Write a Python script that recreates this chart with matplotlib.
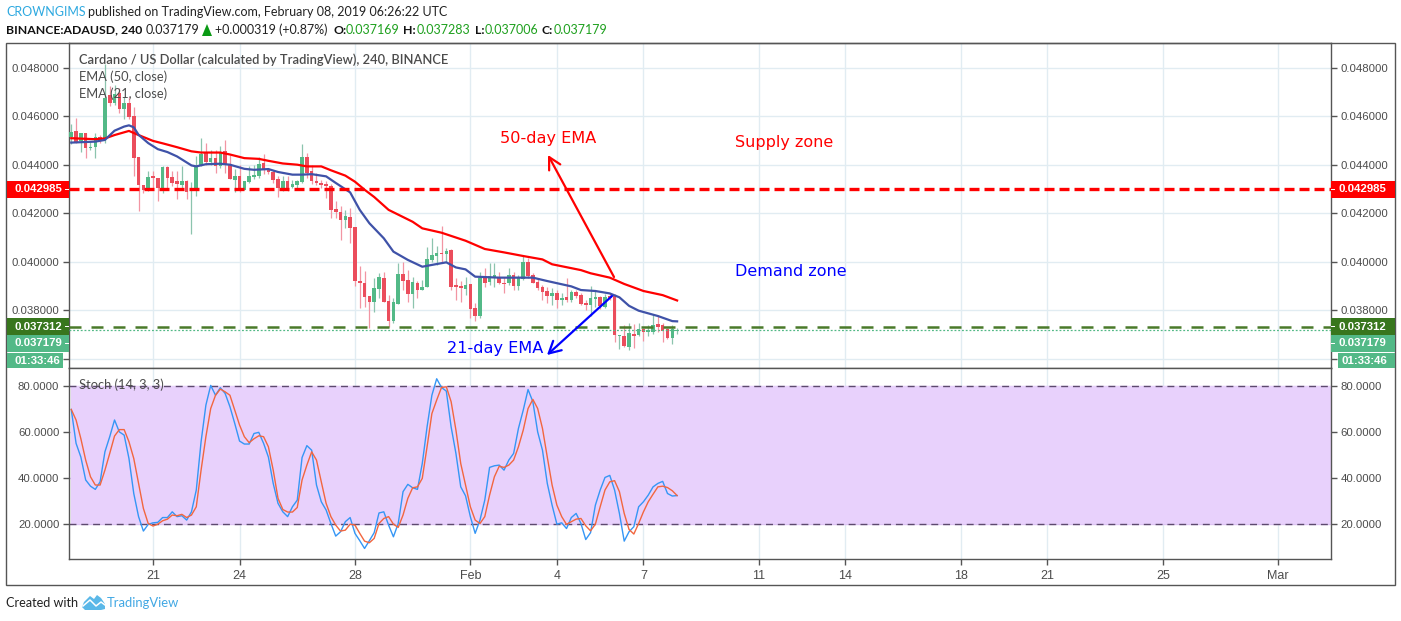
import numpy as np
import pandas as pd
import matplotlib
matplotlib.use('Agg')
import matplotlib.pyplot as plt
import matplotlib.dates as mdates
import matplotlib.ticker as mticker
from matplotlib.patches import Rectangle, Polygon
from matplotlib.lines import Line2D

W, H = 1401, 621

# ---------- data (prices in thousandths of a dollar) ----------
opens = [45.12,45.39,44.98,45.30,44.67,44.71,45.13,45.05,46.87,46.52,
 46.96,46.29,46.54,46.00,44.33,43.18,43.04,43.55,43.46,43.04,
 43.92,43.50,43.34,43.18,43.34,42.90,42.90,43.96,44.48,44.12,
 44.28,43.93,44.57,44.02,43.38,43.55,42.97,43.29,43.49,43.55,
 44.08,43.82,43.71,43.41,43.04,43.34,43.07,43.18,43.29,44.33,
 43.75,43.33,43.26,43.22,43.14,42.19,42.04,41.74,41.83,41.42,
 39.22,39.14,38.59,38.34,38.89,39.33,38.39,37.56,38.26,39.50,
 39.25,38.67,39.14,38.84,38.95,40.07,40.24,40.38,40.32,40.49,
 39.05,39.00,38.88,39.09,38.08,37.77,39.32,39.18,39.32,39.39,
 39.14,39.14,39.46,39.00,39.28,40.00,39.44,39.18,38.95,38.80,
 38.59,38.73,38.43,38.54,38.45,38.76,38.63,38.29,38.22,38.47,
 38.55,38.15,38.59,38.59,36.94,36.94,36.48,37.03,36.98,37.22,
 37.11,37.12,37.44,37.40,37.22,36.85,37.17]
highs = [45.68,45.91,45.32,45.30,44.95,45.30,45.23,48.16,47.23,47.28,
 47.14,46.80,46.80,46.39,44.33,43.18,43.72,43.72,43.46,43.96,
 43.96,43.72,43.72,43.93,43.38,43.27,44.34,45.09,44.89,44.61,
 44.61,44.75,45.02,44.41,43.82,44.00,43.34,43.93,44.00,44.31,
 44.43,43.86,43.79,43.55,43.52,43.55,43.38,43.38,44.84,44.48,
 44.00,43.66,43.38,43.31,43.22,42.52,42.29,42.15,42.20,41.45,
 39.83,39.64,38.59,39.32,39.53,39.60,38.63,38.50,39.96,40.00,
 39.66,39.39,39.22,39.25,40.63,40.97,40.65,41.48,40.56,40.52,
 39.32,39.22,39.39,39.09,38.29,39.60,39.73,39.94,39.94,39.60,
 39.39,39.73,39.60,39.46,40.28,40.14,39.53,39.32,39.05,38.95,
 38.91,38.84,38.70,39.35,38.84,38.84,38.70,38.45,39.00,38.84,
 38.59,38.67,38.70,38.67,37.00,37.40,37.47,37.44,37.47,37.26,
 37.40,37.85,37.81,37.47,37.26,37.40,37.28]
lows = [44.84,44.89,44.54,44.26,44.61,44.26,44.89,44.91,46.43,46.46,
 46.14,45.88,45.87,43.55,42.11,42.84,42.90,43.04,42.52,42.84,
 43.04,43.11,42.60,43.04,42.59,41.13,42.70,43.96,44.00,44.00,
 43.66,43.86,43.66,43.42,42.86,42.86,42.95,43.25,43.41,43.45,
 43.61,43.61,43.25,42.66,42.93,42.93,43.04,43.04,43.25,43.45,
 43.22,43.18,43.04,42.63,41.81,41.81,40.90,41.40,40.76,39.00,
 38.11,38.15,37.26,37.95,38.50,38.34,37.33,37.47,38.26,38.84,
 38.36,38.08,38.50,38.84,38.95,40.00,39.87,39.94,40.00,38.84,
 38.45,38.36,38.63,37.67,37.58,37.67,38.95,39.05,38.98,39.09,
 38.70,39.05,38.84,38.84,39.25,39.32,39.11,38.84,38.45,38.29,
 38.22,38.12,38.22,38.36,38.36,38.50,38.22,38.01,37.77,38.15,
 38.04,38.12,38.43,36.71,36.43,36.50,36.37,36.44,36.94,36.75,
 36.94,37.05,37.12,36.71,36.81,36.61,37.01]
closes = [45.34,44.95,45.30,44.67,44.73,45.13,45.02,46.73,46.55,46.89,
 46.29,46.54,45.96,44.26,43.15,42.97,43.50,43.44,43.04,43.92,
 43.46,43.25,43.20,43.34,42.89,42.97,43.96,44.45,44.12,44.28,
 43.93,44.54,43.97,43.42,43.55,42.97,43.34,43.55,43.59,44.04,
 43.82,43.71,43.38,43.04,43.34,42.93,43.22,43.34,44.33,43.66,
 43.31,43.25,43.18,43.11,42.15,42.04,41.74,41.87,41.41,39.22,
 39.14,38.56,38.34,38.92,39.37,38.34,37.56,38.33,39.50,39.22,
 38.67,39.18,38.84,38.95,40.10,40.28,40.38,40.32,40.45,38.98,
 38.95,38.91,39.05,38.04,37.77,39.35,39.14,39.42,39.44,39.14,
 39.09,39.46,39.00,39.32,40.00,39.42,39.14,38.92,38.77,38.59,
 38.70,38.43,38.50,38.45,38.76,38.59,38.26,38.22,38.51,38.55,
 38.18,38.56,38.51,36.98,37.00,36.53,37.07,36.94,37.22,37.11,
 37.19,37.40,37.30,37.16,36.85,37.22,37.18]

ema50_bars = [0,5,7,9,12,14,17,19,22,25,27,31,33,36,39,41,44,47,49,52,54,57,59,61,63,66,71,73,77,82,86,90,94,98,100,106,108,112,115,119,123,126]
ema50_vals = [45.09,45.05,45.08,45.22,45.39,45.22,44.98,44.88,44.72,44.55,44.50,44.50,44.42,44.27,44.24,44.16,44.05,44.00,43.93,43.93,43.77,43.55,43.30,42.97,42.67,42.14,41.65,41.38,41.20,40.87,40.53,40.39,40.24,40.10,39.90,39.66,39.53,39.35,39.09,38.80,38.63,38.41]
ema21_bars = [0,5,7,9,11,12,13,14,16,18,20,22,25,26,28,31,33,36,38,41,43,46,48,50,53,55,58,60,62,65,67,70,73,76,78,80,82,84,89,96,99,104,106,109,112,114,116,118,122,125,126]
ema21_vals = [44.91,44.95,45.02,45.40,45.57,45.62,45.54,45.23,44.89,44.64,44.52,44.34,43.97,43.93,44.02,44.04,44.00,43.83,43.79,43.82,43.70,43.59,43.59,43.61,43.52,43.25,42.86,42.14,41.59,40.97,40.42,40.08,39.80,39.91,39.98,39.77,39.69,39.39,39.35,39.35,39.21,38.99,38.84,38.80,38.70,38.54,38.19,37.99,37.77,37.56,37.55]

stoch_k = [69.8,55,49,39,36.3,34.9,38.2,51.3,57.9,65.2,60,58.6,48.4,33.1,23,16.7,19.6,20.3,20.5,22.6,
 22.6,25.1,23,23.4,21.5,25.1,34.6,55.7,71.7,80.3,76,79.3,76.8,71,63.7,56,54.7,54.7,59.3,59.8,
 55,49,37.5,28.8,25.1,23,27.3,30.2,48.8,54,52,36.8,29.5,25.9,20,14.5,16.4,20.8,22.6,15.7,
 12.5,9.1,12.5,16,24.6,25.1,19.3,14.2,20,33.9,37.1,35.6,34.9,46.2,62.2,76,83.2,79.4,77.8,62.2,
 50.6,36,32.1,23,15.7,21.5,30.2,44.5,45.2,45.5,43.3,47.7,50.6,61.5,69.5,78.5,73.2,60,52,37.5,
 28,19.7,20.3,17.8,22.6,24.4,20,13,16,28,34.6,40.1,41,34.6,24.4,12.3,16.4,18.6,27.3,29.5,
 32.4,36,37.5,38.4,33.1,32,32.2]
stoch_d = [69.8,65.2,57,47.7,40.4,36.8,36.8,43.3,50.6,58.2,61,61,55.7,48.4,37.5,26.6,20,18.9,19.7,21.2,
 21.9,23.7,23.4,24,22.6,23.7,27.3,43.3,57.9,70.2,76,78.7,77.5,76,69.5,63,57.9,55.3,57,58.3,
 57.9,53.5,43.3,31,26.1,25,25,27,39,45.5,51.3,47.7,38.2,28.8,23,19.3,16.7,17.1,19.7,19.3,
 15.7,12.3,11.6,13.5,20,22.2,23,19.7,18.3,23.7,31,35.6,36,39.7,53.5,68,73.9,79.4,79.7,73.2,
 60.8,46.2,36.8,27.3,21.5,20,23,32.4,40.4,45,44.5,45.5,47.7,53.5,60.8,70.2,74.2,70.2,61.5,49,
 36.8,28,23,19.6,20.8,21.9,22.2,19,16.8,19.7,27.3,34.6,38.2,38.7,33.9,24.4,17.4,15.4,20,25.1,
 29.5,32.8,36,36.3,35.7,34.3,32.2]

price_ticks = [0.036, 0.038, 0.040, 0.042, 0.044, 0.046, 0.048]
stoch_ticks = [20, 40, 60, 80]
date_ticks = ['2019-01-21','2019-01-24','2019-01-28','2019-02-01','2019-02-04','2019-02-07',
              '2019-02-11','2019-02-14','2019-02-18','2019-02-21','2019-02-25','2019-03-01']
date_labels = ['21','24','28','Feb','4','7','11','14','18','21','25','Mar']
supply_level = 0.042985
demand_level = 0.037312
last_price = 0.037179

# ---------- styling ----------
UP, DOWN = '#53b987', '#eb4d5c'
UP_W, DOWN_W = '#8cc4ae', '#f295a3'
GRID = '#e1ecf2'
FRAME = '#555555'
TXT = '#4c4c4c'
SANS = 'Liberation Sans'
LABEL = 'Lato'
PX_DAY = 28.85

fig = plt.figure(figsize=(W/100, H/100), dpi=100, facecolor='white')

def axes_px(x0, y0, x1, y1):
    return fig.add_axes([x0/W, 1-y1/H, (x1-x0)/W, (y1-y0)/H])

def xlim_dates():
    base = mdates.date2num(pd.Timestamp('2019-01-21'))
    return base + (69-153)/PX_DAY, base + (1331-153)/PX_DAY

ax = axes_px(69, 43, 1331, 368)
ax2 = axes_px(69, 368, 1331, 559)

times = pd.date_range('2019-01-18 04:00', periods=len(closes), freq='4h')
xs = mdates.date2num(times)
o, h, l, c = [np.array(a)/1000 for a in (opens, highs, lows, closes)]
up = c >= o
body_w = 3.6/PX_DAY

ax.vlines(xs[up], l[up], h[up], color=UP_W, lw=0.9, zorder=2)
ax.vlines(xs[~up], l[~up], h[~up], color=DOWN_W, lw=0.9, zorder=2)
ax.bar(xs[up], (c-o)[up], bottom=o[up], width=body_w, color=UP, lw=0, zorder=3)
ax.bar(xs[~up], (c-o)[~up], bottom=o[~up], width=body_w, color=DOWN, lw=0, zorder=3)

ax.plot(xs[ema50_bars], np.array(ema50_vals)/1000, color='#ff0000', lw=1.6, zorder=4)
ax.plot(xs[ema21_bars], np.array(ema21_vals)/1000, color='#3f52a8', lw=1.6, zorder=4)

ax.axhline(supply_level, color='#ff0000', lw=2.4, ls=(0, (3.0, 1.5)), zorder=5)
ax.axhline(demand_level, color='#4a7a2a', lw=1.8, ls=(0, (4.8, 4.0)), zorder=5)
ax.axhline(last_price, color='#53b987', lw=0.9, ls=(0, (1.5, 1.5)), zorder=5)

ax.set_ylim(0.03563, 0.04901)
ax.set_yticks(price_ticks)
# the 0.036 tick keeps its mark and grid line; its label sits behind the countdown tag in the source
ax.yaxis.set_major_formatter(mticker.FuncFormatter(lambda v, p: '' if abs(v-0.036) < 1e-6 else '%.6f' % v))

x2_ = mdates.date2num(pd.to_datetime(date_ticks))
for a in (ax, ax2):
    a.set_xlim(*xlim_dates())
    a.set_xticks(x2_)
    a.grid(True, color=GRID, lw=1, zorder=0)
    a.set_axisbelow(True)
    a.tick_params(axis='y', left=True, right=True, labelleft=True, labelright=True,
                  length=4, width=1, color=FRAME, labelsize=8.2, labelcolor=TXT, pad=3)
    for lab in a.get_yticklabels():
        lab.set_fontfamily(SANS)
    for s in a.spines.values():
        s.set_color(FRAME)
        s.set_linewidth(1)
ax.tick_params(axis='x', bottom=False, labelbottom=False)
ax2.tick_params(axis='x', length=4, width=1, color=FRAME, labelsize=9, labelcolor=TXT, pad=4)
ax2.set_xticklabels(date_labels, fontfamily=SANS)

# stochastic panel
ax2.set_ylim(4.5, 87.9)
ax2.set_yticks(stoch_ticks)
ax2.yaxis.set_major_formatter(mticker.FormatStrFormatter('%.4f'))
ax2.axhspan(20, 80, xmin=(xs[0]-ax2.get_xlim()[0])/(ax2.get_xlim()[1]-ax2.get_xlim()[0]),
            color='#e8d1fc', lw=0, zorder=1)
ax2.grid(True, axis='y', color='#dcc3f2', lw=1, zorder=1.5)
for lv in (20, 80):
    ax2.axhline(lv, color='#5d4a6e', lw=1, ls=(0, (5, 3.5)), zorder=2)
ax2.plot(xs, stoch_k, color='#3596f5', lw=1.0, zorder=3)
ax2.plot(xs, stoch_d, color='#f2663f', lw=1.0, zorder=4)

# ---------- pixel-positioned furniture ----------
def text(px, py, s, **kw):
    kw.setdefault('va', 'center')
    kw.setdefault('family', LABEL)
    return fig.text(px/W, 1-py/H, s, **kw)

def box(x0, y0, x1, y1, fc, ec='none', lw=0, fill=True, z=1):
    fig.add_artist(Rectangle((x0/W, 1-y1/H), (x1-x0)/W, (y1-y0)/H, transform=fig.transFigure,
                             facecolor=fc if fill else 'none', edgecolor=ec, lw=lw, zorder=z))

box(6, 43, 1395, 585, 'none', ec=FRAME, lw=1.0, fill=False, z=0.5)

# header
HF = 9.0
text(6, 12, 'CROWNGIMS', color='#2ea9e0', fontsize=HF)
text(88, 12, 'published on TradingView.com, February 08, 2019 06:26:22 UTC', color='#222222', fontsize=HF)
text(6, 30, 'BINANCE:ADAUSD, 240', color='#111111', fontsize=8.8, weight='bold')
text(146, 30, '0.037179', color='#222222', fontsize=HF)
fig.add_artist(Polygon([[202/W, 1-36/H], [212/W, 1-36/H], [207/W, 1-24/H]], closed=True,
                       transform=fig.transFigure, facecolor='#0a9a14', edgecolor='none'))
text(215, 30, '+0.000319 (+0.87%)', color='#222222', fontsize=HF)
for lx, lt, vx, vt in [(333, 'O:', 346, '0.037169'), (403, 'H:', 417, '0.037283'),
                       (475, 'L:', 485, '0.037006'), (542, 'C:', 554, '0.037179')]:
    text(lx, 30, lt, color='#111111', fontsize=8.8, weight='bold')
    text(vx, 30, vt, color='#1ea01e', fontsize=HF)

# chart legends
for py, s, kw in [(60, 'Cardano / US Dollar (calculated by TradingView), 240, BINANCE', dict(weight='semibold')),
                  (77, 'EMA (50, close)', {}), (94, 'EMA (21, close)', {}),
                  (385, 'Stoch (14, 3, 3)', {})]:
    text(79, py, s, color=TXT, fontsize=9.3, zorder=6, **kw)

# annotations
NOTE = 'DejaVu Sans'
text(500, 138, '50-day EMA', color='#ff0000', fontsize=11.6, family=NOTE, zorder=6)
text(735, 143, 'Supply zone', color='#ff0000', fontsize=11.5, family=NOTE, zorder=6)
text(735, 272, 'Demand zone', color='#0000ff', fontsize=11.5, family=NOTE, zorder=6)
text(447, 348, '21-day EMA', color='#0000ff', fontsize=11.6, family=NOTE, zorder=6)

def arrow(x0, y0, x1, y1, col):
    ax.annotate('', xy=(x1/W, 1-y1/H), xycoords='figure fraction',
                xytext=(x0/W, 1-y0/H), textcoords='figure fraction', annotation_clip=False,
                arrowprops=dict(arrowstyle='->,head_length=0.65,head_width=0.35', color=col, lw=1.6,
                                shrinkA=0, shrinkB=0, mutation_scale=13), zorder=6)
arrow(614, 277, 548, 155, '#ff0000')
arrow(612, 296, 547, 355, '#0000ff')

# price tags on both scales
def tag(x0, x1, y0, y1, fc, s, cx, notch):
    box(x0, y0, x1, y1, fc)
    ym = (y0+y1)/2
    text(cx, ym, s, color='white', fontsize=8.2, family=SANS, weight='bold', ha='center', zorder=7)
    nx0 = x1-4 if notch == 'r' else x0
    box(nx0, ym-0.5, nx0+4, ym+0.5, 'white', z=1.5)

for x0, x1, x0t, x1t, cx, ct, nt in [(7, 69, 7, 63, 38, 37, 'r'), (1331, 1395, 1338, 1395, 1362.5, 1364, 'l')]:
    tag(x0, x1, 181, 198, '#ff0000', '0.042985', cx, nt)
    tag(x0, x1, 318, 335, '#38761d', '0.037312', cx, nt)
    tag(x0, x1, 335, 352, '#53b987', '0.037179', cx, nt)
    box(x0t, 353, x1t, 368, '#53b987')
    text(ct, 360.5, '01:33:46', color='white', fontsize=8.2, family=SANS, weight='bold',
         ha='center', zorder=7)

# footer
text(6, 603, 'Created with', color='#222222', fontsize=9.1)
fig.add_artist(Polygon([[p[0]/W, 1-p[1]/H] for p in
                        [(82, 607), (84, 602), (90, 596), (94, 599), (97, 595), (101, 598), (105, 604),
                         (105, 609), (101, 610), (85, 610)]],
                       closed=True, transform=fig.transFigure, facecolor='#5bb8e8', edgecolor='none'))
fig.add_artist(Line2D([p[0]/W for p in [(83, 606), (90, 600), (96, 606), (101, 602), (105, 605)]],
                      [1-p[1]/H for p in [(83, 606), (90, 600), (96, 606), (101, 602), (105, 605)]],
                      transform=fig.transFigure, color='white', lw=1.1, zorder=2))
text(107, 603, 'TradingView', color='#42a8e4', fontsize=9.4)

fig.savefig('out.png', dpi=100)
